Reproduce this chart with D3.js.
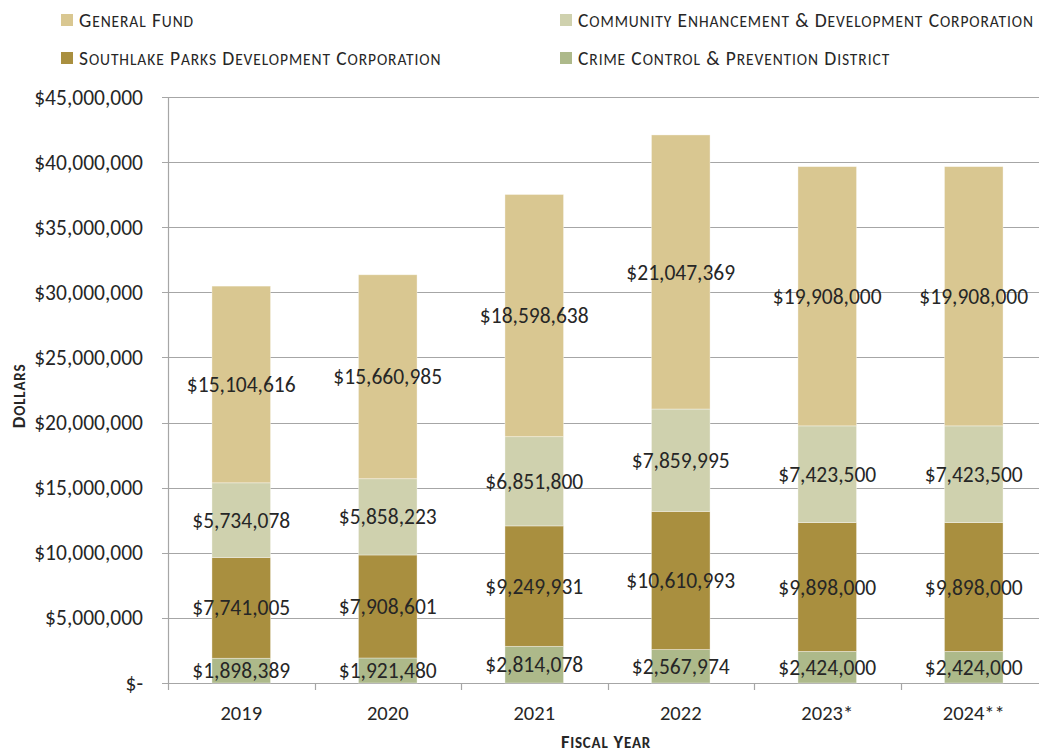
<!DOCTYPE html>
<html>
<head>
<meta charset="utf-8">
<script src="https://cdn.jsdelivr.net/npm/d3@7"></script>
<style>
  html, body { margin: 0; padding: 0; background: #fff; }
  svg { display: block; font-family: Carlito, Lato, "Open Sans", sans-serif; }
</style>
</head>
<body>
<svg id="chart" width="1039" height="752"></svg>
<script>
// Fiscal years and the four funding sources (dollars)
const categories = ["2019", "2020", "2021", "2022", "2023*", "2024**"];
const crimeControl = [1898389, 1921480, 2814078, 2567974, 2424000, 2424000];
const parksDevelopment = [7741005, 7908601, 9249931, 10610993, 9898000, 9898000];
const communityEnhancement = [5734078, 5858223, 6851800, 7859995, 7423500, 7423500];
const generalFund = [15104616, 15660985, 18598638, 21047369, 19908000, 19908000];
const yTicks = [0, 5000000, 10000000, 15000000, 20000000, 25000000, 30000000, 35000000, 40000000, 45000000];

// Stack order from the bottom up
const seriesList = [
  { name: "Crime Control & Prevention District", values: crimeControl, color: "#adb98a" },
  { name: "Southlake Parks Development Corporation", values: parksDevelopment, color: "#a98f3f" },
  { name: "Community Enhancement & Development Corporation", values: communityEnhancement, color: "#cfd1ae" },
  { name: "General Fund", values: generalFund, color: "#d9c791" }
];

const svg = d3.select("#chart");
const plot = { left: 168, right: 1047, top: 97, bottom: 683 };

const x = d3.scaleBand()
  .domain(categories)
  .range([plot.left, plot.right])
  .paddingInner(0.6)
  .paddingOuter(0.3);

const y = d3.scaleLinear()
  .domain([0, 45000000])
  .range([plot.bottom, plot.top]);

const textColor = "#262626";
const gridColor = "#a6a6a6";

// Small-caps text: capitals at full size, lowercase letters as smaller capitals
function smallCaps(sel, text, big, small) {
  const runs = [];
  for (const ch of text) {
    const isLower = ch !== ch.toUpperCase();
    const size = isLower ? small : big;
    const last = runs[runs.length - 1];
    if (last && last.size === size) last.text += ch.toUpperCase();
    else runs.push({ size, text: ch.toUpperCase() });
  }
  runs.forEach(r => sel.append("tspan").attr("font-size", r.size).text(r.text));
}

// Horizontal gridlines with short ticks left of the axis
svg.append("g").selectAll("line")
  .data(yTicks)
  .join("line")
  .attr("x1", plot.left - 6)
  .attr("x2", plot.right)
  .attr("y1", d => Math.round(y(d)) + 0.5)
  .attr("y2", d => Math.round(y(d)) + 0.5)
  .attr("stroke", gridColor)
  .attr("stroke-width", 1.2);

// Vertical axis line
svg.append("line")
  .attr("x1", plot.left + 0.5).attr("x2", plot.left + 0.5)
  .attr("y1", plot.top).attr("y2", plot.bottom + 7)
  .attr("stroke", gridColor).attr("stroke-width", 1.2);

// Category boundary ticks below the baseline
const boundaries = categories.map(c => x(c) - x.step() * x.paddingInner() / 2).slice(1);
svg.append("g").selectAll("line")
  .data(boundaries)
  .join("line")
  .attr("x1", d => Math.round(d) + 0.5)
  .attr("x2", d => Math.round(d) + 0.5)
  .attr("y1", plot.bottom)
  .attr("y2", plot.bottom + 7)
  .attr("stroke", gridColor).attr("stroke-width", 1.2);

// Y tick labels
const fmt = d3.format(",");
svg.append("g").selectAll("text")
  .data(yTicks)
  .join("text")
  .attr("x", 143)
  .attr("y", d => y(d))
  .attr("dy", "0.35em")
  .attr("text-anchor", "end")
  .attr("font-size", 21.5)
  .attr("fill", textColor)
  .text(d => d === 0 ? "$-" : "$" + fmt(d));

// X category labels
svg.append("g").selectAll("text")
  .data(categories)
  .join("text")
  .attr("x", d => x(d) + x.bandwidth() / 2)
  .attr("y", 713)
  .attr("dy", "0.35em")
  .attr("text-anchor", "middle")
  .attr("font-size", 20.5)
  .attr("fill", textColor)
  .text(d => d);

// Stacked bars
const stackRows = categories.map((c, i) => {
  const row = { category: c };
  seriesList.forEach(s => { row[s.name] = s.values[i]; });
  return row;
});
const stacked = d3.stack().keys(seriesList.map(s => s.name))(stackRows);

const layers = svg.append("g").selectAll("g")
  .data(stacked)
  .join("g")
  .attr("fill", (d, i) => seriesList[i].color);

layers.selectAll("rect")
  .data(d => d)
  .join("rect")
  .attr("x", d => x(d.data.category))
  .attr("width", x.bandwidth())
  .attr("y", d => y(d[1]))
  .attr("height", d => y(d[0]) - y(d[1]))
  .attr("stroke", "#ffffff")
  .attr("stroke-opacity", 0.45)
  .attr("stroke-width", 0.8);

// Value labels centred in each segment
layers.selectAll("text")
  .data(d => d)
  .join("text")
  .attr("x", d => x(d.data.category) + x.bandwidth() / 2)
  .attr("y", d => (y(d[0]) + y(d[1])) / 2)
  .attr("dy", "0.35em")
  .attr("text-anchor", "middle")
  .attr("font-size", 21.5)
  .attr("fill", textColor)
  .text(d => "$" + fmt(d[1] - d[0]));

// Axis titles
svg.append("text")
  .attr("transform", "translate(25,396) rotate(-90)")
  .attr("text-anchor", "middle")
  .attr("font-weight", "bold")
  .attr("letter-spacing", 0.8)
  .attr("fill", textColor)
  .call(smallCaps, "Dollars", 18.5, 15);

svg.append("text")
  .attr("x", 606)
  .attr("y", 748)
  .attr("text-anchor", "middle")
  .attr("font-weight", "bold")
  .attr("letter-spacing", 0.8)
  .attr("fill", textColor)
  .call(smallCaps, "Fiscal Year", 18.5, 15);

// Legend: two columns, two rows
const legendItems = [
  { s: seriesList[3], x: 61, y: 20 },
  { s: seriesList[2], x: 560, y: 20 },
  { s: seriesList[1], x: 61, y: 58 },
  { s: seriesList[0], x: 560, y: 58 }
];
const legend = svg.append("g").selectAll("g")
  .data(legendItems)
  .join("g")
  .attr("transform", d => `translate(${d.x},${d.y})`);
legend.append("rect")
  .attr("x", 0).attr("y", -6)
  .attr("width", 12).attr("height", 12)
  .attr("fill", d => d.s.color);
legend.append("text")
  .attr("x", 18)
  .attr("y", 7)
  .attr("letter-spacing", 0.9)
  .attr("fill", textColor)
  .each(function (d) { smallCaps(d3.select(this), d.s.name, 19.5, 15.5); });
</script>
</body>
</html>
